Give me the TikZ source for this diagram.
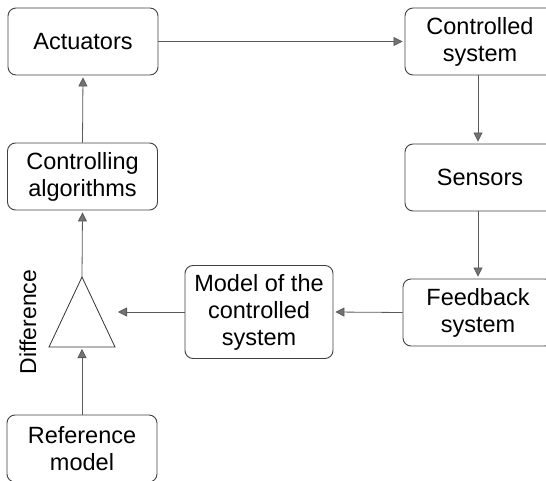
\documentclass[tikz,border=0pt]{standalone}
\usepackage{fontspec}
\setmainfont{Liberation Sans}
\usetikzlibrary{arrows.meta}
\tikzset{
  blk/.style={draw=black!75, line width=0.9pt, rounded corners=8pt,
    minimum width=150pt, minimum height=67pt, inner sep=0pt,
    align=center, font=\fontsize{23.5}{27}\selectfont},
  flow/.style={draw=black!65, line width=0.8pt,
    -{Triangle[length=9pt,width=9pt,fill=black!55]}, shorten >=2pt},
}
\begin{document}
\begin{tikzpicture}[x=1pt,y=-1pt]
\useasboundingbox (0,0) rectangle (546,481);
\clip (0,0) rectangle (546,481);
% blocks
\node[blk] (act) at (83,41.5) {Actuators};
\node[blk] (alg) at (82.5,176.5) {Controlling\\algorithms};
\node[blk] (sys) at (480,41.5) {Controlled\\system};
\node[blk] (sen) at (480,177.5) {Sensors};
\node[blk] (fb) at (478,312.5) {Feedback\\system};
\node[blk, minimum width=148pt, minimum height=93pt] (mod) at (259,312)
  {Model of the\\controlled\\system};
\node[blk] (ref) at (82,448.5) {Reference\\model};
% difference element
\coordinate (apex) at (82,277);
\coordinate (bl) at (49,347);
\coordinate (br) at (115,347);
\draw[black!80, line width=0.8pt] (apex) -- (bl) -- (br) -- cycle;
\coordinate (base) at (82,349);
\coordinate (side) at (118,312);
\node[rotate=90, font=\fontsize{23}{27}\selectfont] (dif) at (28,322) {Difference};
% connectors
\draw[flow] (act.east) -- (sys.west);
\draw[flow] (sys.south -| 478,0) -- (sen.north -| 478,0);
\draw[flow] (sen.south -| 478,0) -- (fb.north -| 478,0);
\draw[flow] (fb.west) -- (mod.east);
\draw[flow, shorten >=0pt] (mod.west) -- (side);
\draw[flow, shorten >=0pt] (ref.north) -- (base);
\draw[flow] (apex) -- (alg.south);
\draw[flow] (alg.north) -- (act.south);
\end{tikzpicture}
\end{document}
